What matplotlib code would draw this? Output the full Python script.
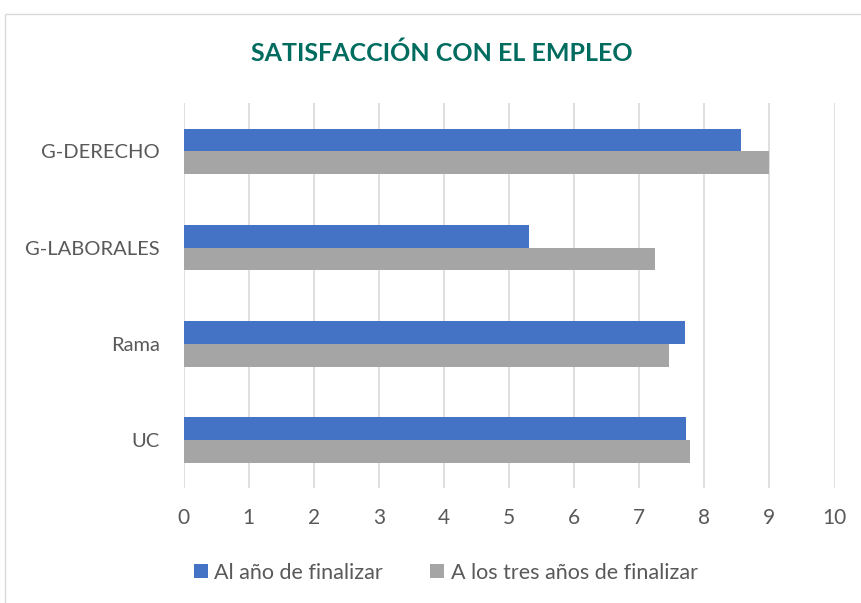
import numpy as np
import matplotlib.pyplot as plt

plt.rcParams['font.family'] = ['Lato', 'DejaVu Sans']

categories = ['UC', 'Rama', 'G-LABORALES', 'G-DERECHO']
al_anio = [7.72, 7.70, 5.30, 8.56]
tres_anios = [7.78, 7.45, 7.25, 9.00]
series_names = ['Al año de finalizar', 'A los tres años de finalizar']

blue = '#4472C4'
gray = '#A5A5A5'
text_col = '#595959'

fig = plt.figure(figsize=(8.62, 6.03), dpi=100)
ax = fig.add_axes([0.2129, 0.1902, 0.7552, 0.6385])

y = np.arange(len(categories))
h = 0.236
ax.barh(y + h / 2, al_anio, height=h, color=blue, label=series_names[0], zorder=3)
ax.barh(y - h / 2, tres_anios, height=h, color=gray, label=series_names[1], zorder=3)

ax.set_xlim(0, 10)
ax.set_ylim(-0.5, len(categories) - 0.5)
ax.set_xticks(range(0, 11))
ax.set_yticks(y)
ax.set_yticklabels(categories)
ax.tick_params(axis='both', length=0, colors=text_col)
ax.tick_params(axis='x', pad=14, labelsize=15)
ax.tick_params(axis='y', pad=17, labelsize=14.5)
ax.grid(axis='x', color='#D9D9D9', linewidth=1.2, zorder=0)
for s in ax.spines.values():
    s.set_visible(False)

fig.text(0.512, 0.912, 'SATISFACCIÓN CON EL EMPLEO', ha='center', va='center',
         fontsize=18, fontweight='bold', color='#006B5F')

leg = fig.legend(loc='center', bbox_to_anchor=(0.517, 0.05), ncol=2, frameon=False,
                 fontsize=15.5, handlelength=0.65, handleheight=0.65, handletextpad=0.3,
                 columnspacing=2.2)
for t in leg.get_texts():
    t.set_color(text_col)

# chart border
fig.patches.append(plt.Rectangle((0.006, -0.01), 1.1, 0.987, transform=fig.transFigure,
                                 fill=False, edgecolor='#D9D9D9', linewidth=1))

fig.savefig('out.png', dpi=100)
